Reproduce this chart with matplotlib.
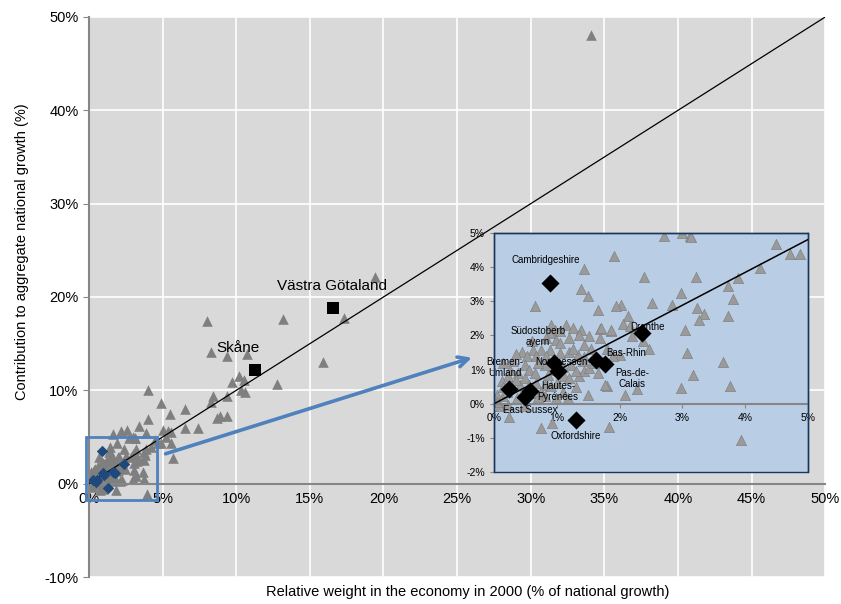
import matplotlib.pyplot as plt
from matplotlib.patches import Rectangle
from matplotlib.ticker import FuncFormatter

plt.rcParams['font.family'] = ['Liberation Sans', 'DejaVu Sans']

# all regions (grey triangles), values in %
tri_x = [2.71, 3.12, 3.14, 4.49, 4.72, 4.87, 1.91, 4.23, 1.43, 2.39, 3.21, 3.89, 3.72, 1.39, 1.49,
         2.97, 3.80, 0.66, 2.02, 1.95, 2.51, 2.83, 1.66, 3.24, 3.35, 3.27, 2.13, 2.05, 3.73, 3.04,
         1.69, 1.86, 2.20, 2.37, 2.47, 3.07, 3.64, 3.17, 3.75, 2.98, 2.27, 2.08, 1.80, 3.94, 1.83,
         0.75, 0.93, 0.24, 2.00, 1.90,
         1.15, 1.26, 1.39, 0.97, 1.05, 0.89, 0.83, 0.99, 1.20, 1.52, 1.68, 0.44, 0.62, 0.75, 0.89,
         1.05, 1.20, 1.34, 1.44, 0.52, 0.67, 0.83, 0.14, 0.30, 0.49, 0.81, 1.10, 1.23, 1.42, 0.86,
         1.12, 1.20, 1.36, 0.38, 0.22, 0.12, 0.28, 0.41, 0.67, 0.81, 0.91, 0.04, 0.14, 0.36, 0.59,
         0.81, 0.99, 1.18, 0.09, 0.22, 0.49, 1.50, 1.76, 1.44, 1.52, 1.31, 1.71, 1.87, 1.05, 1.44,
         2.16, 0.55, 0.65, 0.70, 0.95, 0.60, 0.35, 0.50, 0.75, 1.00, 1.60, 1.65, 1.30, 0.20, 0.45,
         1.10, 1.25, 1.55, 0.35, 0.60, 1.80, 0.90, 1.35, 0.70, 0.25, 0.55, 0.05, 0.15,
         8.0, 13.2, 8.3, 9.4, 10.7, 10.2, 10.5, 9.7, 12.75, 10.6, 10.3, 9.4, 8.4, 8.3, 4.0,
         6.5, 5.5, 4.9, 8.9, 9.4, 8.7, 4.0, 7.4, 6.5, 5.0, 5.4, 19.4, 17.3, 15.9, 34.1,
         2.6, 3.9, 5.6, 5.7, 5.2, 5.6, 3.0, 2.2, 3.4, 1.6]
tri_y = [4.91, 4.91, 4.88, 4.69, 4.39, 4.39, 4.34, 3.98, 3.96, 3.71, 3.70, 3.67, 3.44, 3.37, 3.15,
         3.23, 3.08, 2.87, 2.90, 2.85, 2.95, 2.88, 2.76, 2.81, 2.63, 2.44, 2.56, 2.34, 2.56, 2.17,
         2.20, 2.14, 1.97, 1.83, 1.60, 1.49, 1.22, 0.83, 0.53, 0.46, 0.43, 0.26, 0.53, -1.06, -0.69,
         -0.71, -0.57, -0.40, 1.43, 1.39,
         2.32, 2.22, 2.17, 2.17, 2.12, 2.07, 1.93, 1.88, 1.93, 1.97, 1.93, 1.53, 1.58, 1.58, 1.58,
         1.48, 1.53, 1.43, 1.38, 1.39, 1.39, 1.39, 1.20, 1.24, 1.14, 1.14, 1.09, 1.14, 1.24, 0.85,
         0.80, 0.75, 0.80, 0.90, 0.80, 0.66, 0.51, 0.56, 0.61, 0.56, 0.51, 0.27, 0.22, 0.17, 0.31,
         0.22, 0.17, 0.17, -0.08, -0.03, -0.08, 0.27, 0.56, 0.95, 1.04, 0.95, 2.22, 2.17, 1.78, 1.73,
         2.27, 1.00, 0.90, 1.20, 1.00, 0.45, 0.70, 0.75, 0.35, 0.60, 1.20, 0.90, 0.50, 0.35, 0.30,
         0.35, 1.60, 1.60, 1.45, 1.85, 1.60, 2.30, 2.00, 0.20, 1.00, 0.55, 0.05, 0.50,
         17.4, 17.6, 14.1, 13.7, 13.9, 11.5, 11.1, 10.9, 10.7, 9.8, 10.0, 9.4, 9.4, 8.7, 10.0,
         8.0, 7.5, 8.6, 7.3, 7.3, 7.0, 6.9, 6.0, 6.0, 5.7, 5.6, 22.1, 17.7, 13.0, 48.1,
         5.8, 5.4, 5.5, 2.8, 5.0, 4.4, 5.0, 5.6, 6.2, 5.3]

# highlighted regions (diamonds)
region_names = ['Cambridgeshire', 'Südostoberb\nayern', 'Nordhessen', 'Bremen-\nUmland',
                'Hautes-\nPyrénées', 'East Sussex', 'Drenthe', 'Bas-Rhin', 'Pas-de-\nCalais',
                'Oxfordshire']
region_x = [0.89, 0.96, 1.02, 0.24, 0.57, 0.49, 2.36, 1.63, 1.76, 1.30]
region_y = [3.54, 1.19, 0.95, 0.43, 0.36, 0.19, 2.07, 1.29, 1.16, -0.47]
label_x = [0.83, 0.70, 1.07, 0.17, 1.02, 0.57, 2.45, 2.11, 2.20, 1.30]
label_y = [4.22, 1.97, 1.21, 1.05, 0.35, -0.18, 2.24, 1.49, 0.74, -0.94]

# Swedish regions (squares)
big_names = ['Skåne', 'Västra Götaland']
big_x = [11.3, 16.6]
big_y = [12.2, 18.8]

pct = FuncFormatter(lambda v, p: f'{v:.0f}%')
grey = '#868686'
blue = '#4f81bd'

fig = plt.figure(figsize=(8.41, 6.04), dpi=100)
ax = fig.add_axes([0.1058, 0.0447, 0.8755, 0.9272])
ax.set_facecolor('#d9d9d9')
ax.set_xlim(0, 50)
ax.set_ylim(-10, 50)
ax.set_xticks(range(0, 51, 5))
ax.set_yticks(range(-10, 51, 10))
ax.xaxis.set_major_formatter(pct)
ax.yaxis.set_major_formatter(pct)
ax.grid(color='white', lw=1.2)
ax.set_axisbelow(True)
for s in ['top', 'right']:
    ax.spines[s].set_visible(False)
ax.spines['bottom'].set_position(('data', 0))
ax.spines['bottom'].set_color(grey)
ax.spines['bottom'].set_linewidth(1.5)
ax.spines['left'].set_color(grey)
ax.spines['left'].set_linewidth(1.5)
ax.tick_params(axis='both', colors=grey, labelcolor='black', labelsize=10.5, length=4)
ax.tick_params(axis='x', length=0, pad=6)

ax.scatter(tri_x, tri_y, marker='^', s=58, color='#7f7f7f', lw=0, zorder=2)
ax.plot([0, 50], [0, 50], color='black', lw=0.9, zorder=3)
ax.scatter(region_x, region_y, marker='D', s=34, color='#1f497d', lw=0, zorder=4)
ax.scatter(big_x, big_y, marker='s', s=80, color='black', lw=0, zorder=4)
ax.text(10.1, 14.5, big_names[0], fontsize=11, ha='center', va='center')
ax.text(16.5, 21.2, big_names[1], fontsize=11, ha='center', va='center')

ax.add_patch(Rectangle((-0.2, -1.8), 4.8, 6.8, fill=False, ec=blue, lw=2, clip_on=False, zorder=5))
ax.annotate('', xy=(26.0, 13.5), xytext=(5.2, 3.2),
            arrowprops=dict(arrowstyle='->', color=blue, lw=2.6, mutation_scale=18,
                            shrinkA=0, shrinkB=0), zorder=5)

fig.text(0.556, 0.020, 'Relative weight in the economy in 2000 (% of national growth)',
         fontsize=10.5, ha='center', va='center')
fig.text(0.026, 0.584, 'Contribution to aggregate national growth (%)',
         fontsize=10.5, ha='center', va='center', rotation=90)

# zoomed inset
ins = fig.add_axes([0.5874, 0.2185, 0.3734, 0.3957])
ins.set_facecolor('#b9cde5')
ins.set_xlim(0, 5)
ins.set_ylim(-2, 5)
ins.set_xticks(range(0, 6))
ins.set_yticks(range(-2, 6))
ins.xaxis.set_major_formatter(pct)
ins.yaxis.set_major_formatter(pct)
for s in ['top', 'right', 'left']:
    ins.spines[s].set_color('#17375e')
    ins.spines[s].set_linewidth(1)
ins.spines['bottom'].set_position(('data', 0))
ins.spines['bottom'].set_color(grey)
ins.spines['bottom'].set_linewidth(1.5)
ins.add_patch(Rectangle((0, 0), 1, 1, transform=ins.transAxes, fill=False, ec='#17375e',
                        lw=1, clip_on=False, zorder=6))
ins.tick_params(axis='both', colors=grey, labelcolor='black', labelsize=7.5, length=3)
ins.tick_params(axis='x', pad=4)

ins.scatter(tri_x, tri_y, marker='^', s=55, color='#9a9a9a', ec='#7a7a7a', lw=0.4, zorder=2)
ins.plot([0, 5], [0, 4.81], color='black', lw=1.1, zorder=3)
ins.scatter(region_x, region_y, marker='D', s=85, color='black', lw=0, zorder=4)
for name, lx, ly in zip(region_names, label_x, label_y):
    ins.text(lx, ly, name, fontsize=7, ha='center', va='center', linespacing=1.1, zorder=5)

fig.savefig('out.png', dpi=100)
